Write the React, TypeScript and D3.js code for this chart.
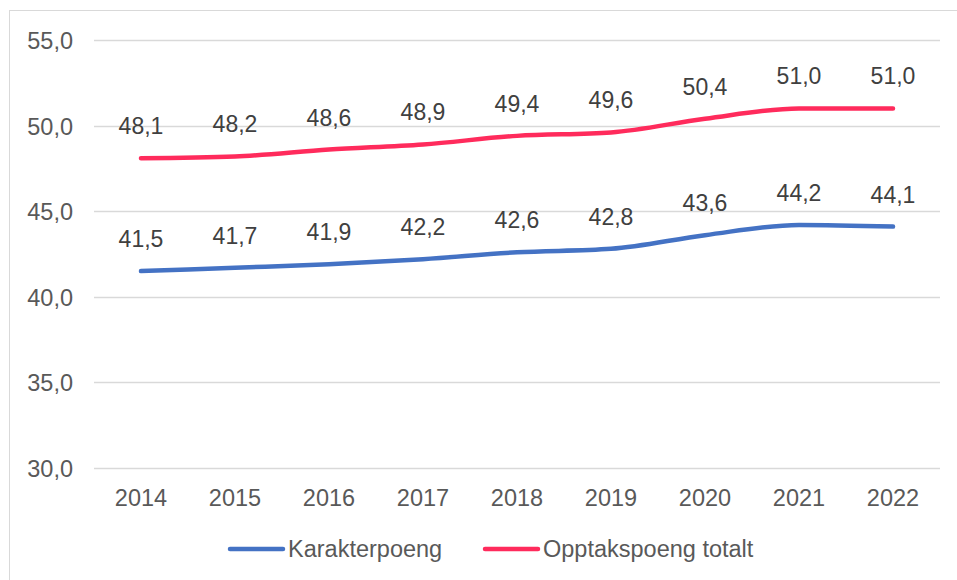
import { useEffect, useRef } from 'react'
import * as d3 from 'd3'

const years = ['2014', '2015', '2016', '2017', '2018', '2019', '2020', '2021', '2022']
const karakterpoeng = [41.5, 41.7, 41.9, 42.2, 42.6, 42.8, 43.6, 44.2, 44.1]
const opptakspoeng = [48.1, 48.2, 48.6, 48.9, 49.4, 49.6, 50.4, 51.0, 51.0]
const yTicks = [30, 35, 40, 45, 50, 55]

const seriesNames = ['Karakterpoeng', 'Opptakspoeng totalt']
const seriesColors = ['#4472C4', '#FF2B5C']

export default function App() {
  const svgRef = useRef<SVGSVGElement | null>(null)
  const width = 957
  const height = 580

  useEffect(() => {
    if (!svgRef.current) return
    const svg = d3.select(svgRef.current)
    svg.selectAll('*').remove()

    const font = 'Liberation Sans, Arial, sans-serif'
    const fmt = (v: number) => v.toFixed(1).replace('.', ',')

    // chart border
    svg.append('rect')
      .attr('x', 9.5).attr('y', 10.5)
      .attr('width', 960).attr('height', 580)
      .attr('fill', '#fff').attr('stroke', '#d9d9d9').attr('stroke-width', 1)

    const left = 94, right = 940, top = 40, bottom = 468

    const x = d3.scaleBand().domain(years).range([left, right])
    const y = d3.scaleLinear().domain([30, 55]).range([bottom, top])
    const cx = (d: string) => (x(d) as number) + x.bandwidth() / 2

    // gridlines
    svg.append('g').selectAll('line').data(yTicks).join('line')
      .attr('x1', left).attr('x2', right)
      .attr('y1', d => Math.round(y(d)) + 0.5).attr('y2', d => Math.round(y(d)) + 0.5)
      .attr('stroke', '#d9d9d9').attr('stroke-width', 1.3)

    // y labels
    svg.append('g').selectAll('text').data(yTicks).join('text')
      .attr('x', 73).attr('y', d => y(d) + 9)
      .attr('text-anchor', 'end')
      .attr('fill', '#595959').attr('font-size', 23.5).attr('font-family', font)
      .text(d => fmt(d))

    // x labels
    svg.append('g').selectAll('text').data(years).join('text')
      .attr('x', d => cx(d)).attr('y', 506)
      .attr('text-anchor', 'middle')
      .attr('fill', '#595959').attr('font-size', 23.5).attr('font-family', font)
      .text(d => d)

    const line = d3.line<number>()
      .x((_, i) => cx(years[i]))
      .y(d => y(d))
      .curve(d3.curveMonotoneX)

    const allSeries = [karakterpoeng, opptakspoeng]
    allSeries.forEach((vals, si) => {
      svg.append('path')
        .datum(vals)
        .attr('d', line)
        .attr('fill', 'none')
        .attr('stroke', seriesColors[si])
        .attr('stroke-width', 4.5)
        .attr('stroke-linecap', 'round')
        .attr('stroke-linejoin', 'round')

      svg.append('g').selectAll('text').data(vals).join('text')
        .attr('x', (_, i) => cx(years[i]))
        .attr('y', d => y(d) - 24)
        .attr('text-anchor', 'middle')
        .attr('fill', '#404040').attr('font-size', 23).attr('font-family', font)
        .text(d => fmt(d))
    })

    // legend
    const legendItems = [
      { name: seriesNames[0], color: seriesColors[0], x0: 230 },
      { name: seriesNames[1], color: seriesColors[1], x0: 485 },
    ]
    legendItems.forEach(it => {
      svg.append('line')
        .attr('x1', it.x0).attr('x2', it.x0 + 53)
        .attr('y1', 549).attr('y2', 549)
        .attr('stroke', it.color).attr('stroke-width', 4.5)
        .attr('stroke-linecap', 'round')
      svg.append('text')
        .attr('x', it.x0 + 58).attr('y', 557)
        .attr('fill', '#595959').attr('font-size', 23.5).attr('font-family', font)
        .text(it.name)
    })
  }, [])

  return (
    <svg ref={svgRef} width={width} height={height}
      style={{ position: 'absolute', left: 0, top: 0, display: 'block' }} />
  )
}
